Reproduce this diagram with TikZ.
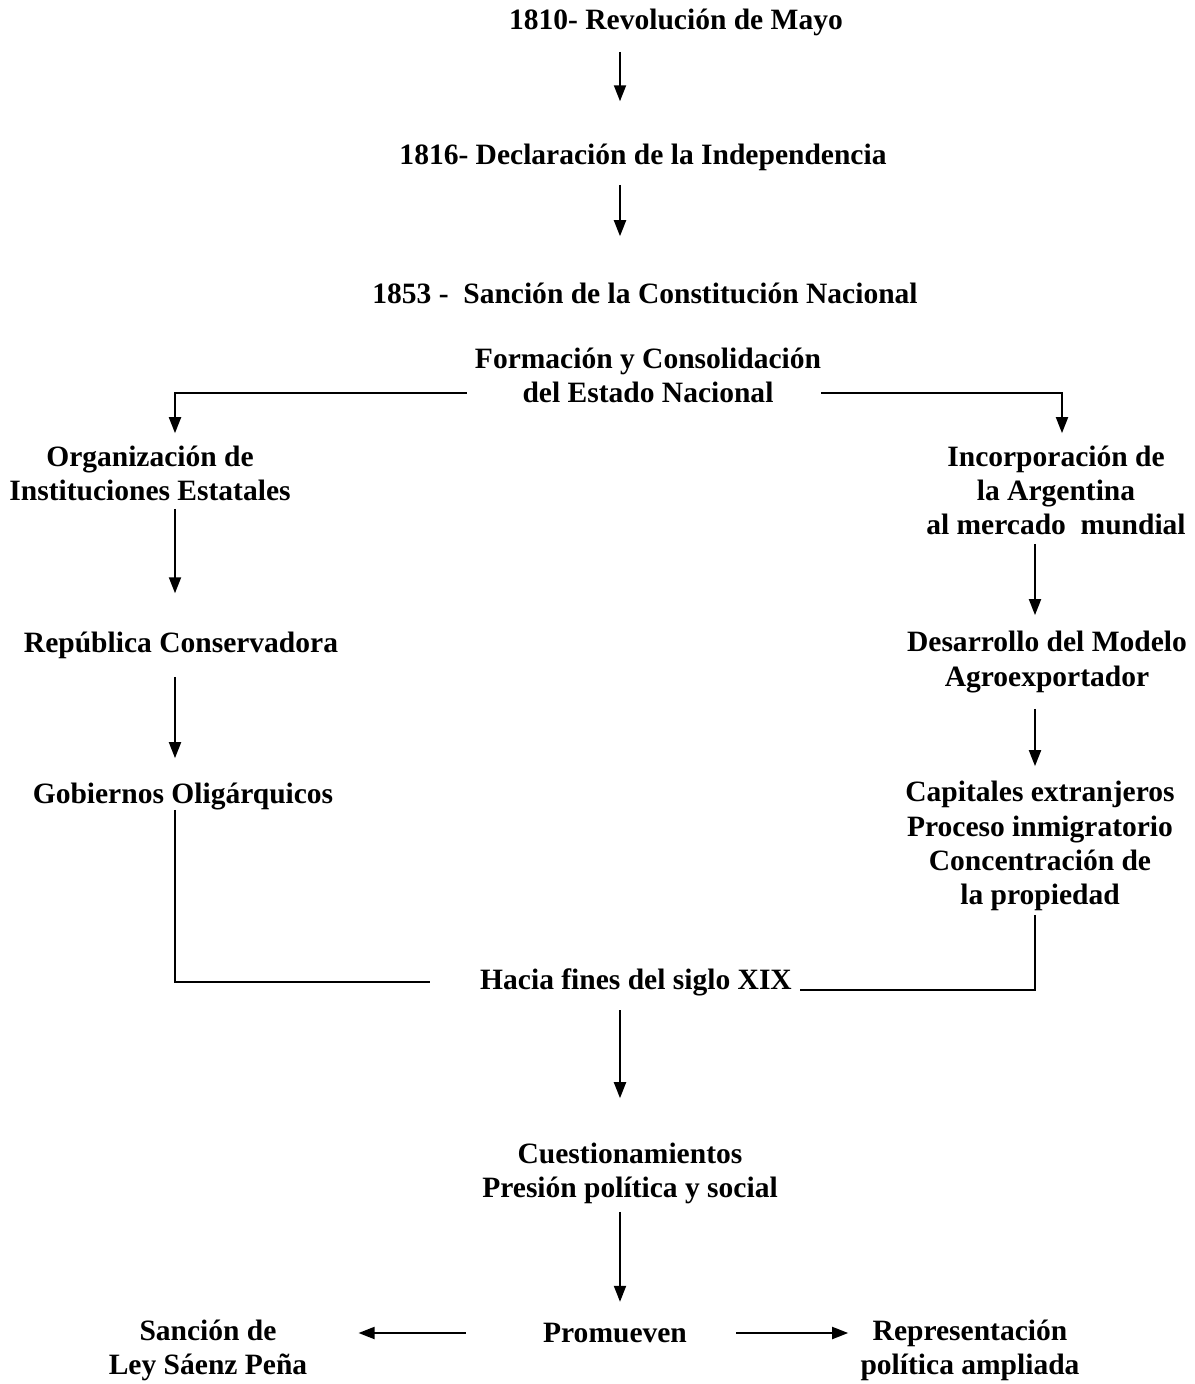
\documentclass[tikz,border=0pt]{standalone}
\usepackage{fontspec}
\setmainfont{Liberation Serif}
\usepackage{tikz}
\usetikzlibrary{arrows.meta}
\tikzset{
  txt/.style={font=\fontsize{16.8}{19.4}\selectfont\bfseries,align=center,inner sep=0pt},
  arr/.style={-{Triangle[length=0.32cm,width=0.24cm]},line width=1.1pt},
  ln/.style={line width=1.1pt},
}
\begin{document}
\begin{tikzpicture}[x=0.02cm,y=-0.02cm]
        \useasboundingbox (0,0) rectangle (1195,1384);
        \coordinate (cax) at (620,0);
        \coordinate (lax) at (175,0);
        \coordinate (rax) at (1035,0);
        \node (mayo) at (676,22) [txt] {1810- Revolución de Mayo};
        \node (indep) at (643,157) [txt] {1816- Declaración de la Independencia};
        \node (const) at (645,293) [txt] {1853 -~ Sanción de la Constitución Nacional};
        \node (estado) at (648,375) [txt] {Formación y Consolidación\\ del Estado Nacional};
        \node (inst) at (150,473) [txt] {Organización de\\Instituciones Estatales};
        \node (incorp) at (1056,490) [txt] {Incorporación de\\la Argentina\\al mercado~ mundial};
        \node (repub) at (181,645) [txt] {República Conservadora};
        \node (desarr) at (1047,662) [txt] {Desarrollo del Modelo\\Agroexportador};
        \node (gob) at (183,796) [txt] {Gobiernos Oligárquicos};
        \node (capit) at (1040,846) [txt] {Capitales extranjeros\\Proceso inmigratorio\\Concentración de\\la propiedad};
        \node (hacia) at (636,982) [txt] {Hacia fines del siglo XIX};
        \node (cuest) at (630,1173) [txt] {Cuestionamientos\\Presión política y social};
        \node (prom) at (615,1333) [txt] {Promueven};
        \node (saenz) at (208,1350) [txt] {Sanción de\\Ley Sáenz Peña};
        \node (repres) at (970,1350) [txt] {Representación\\política ampliada};
        \draw [arr,shorten <=0.32cm,shorten >=0.84cm] (mayo.south -| cax) -- (indep.north -| cax);
        \draw [arr,shorten <=0.28cm,shorten >=0.92cm] (indep.south -| cax) -- (const.north -| cax);
        \draw [arr,shorten >=0.24cm] ([shift={(-8,18)}]estado.west) -| (inst.north -| lax);
        \draw [arr,shorten >=0.24cm] ([shift={(0,18)}]estado.east) -| ([xshift=0.12cm]incorp.north);
        \draw [arr,shorten <=0.16cm,shorten >=0.76cm] (inst.south -| lax) -- (repub.north -| lax);
        \draw [arr,shorten <=0.36cm,shorten >=0.48cm] (repub.south -| lax) -- (gob.north -| lax);
        \draw [arr,shorten <=0.18cm,shorten >=0.32cm] (incorp.south -| rax) -- (desarr.north -| rax);
        \draw [arr,shorten <=0.32cm,shorten >=0.30cm] (desarr.south -| rax) -- (capit.north -| rax);
        \draw [ln,shorten >=1.0cm] (gob.south -| lax) |- (hacia.west);
        \draw [ln,shorten <=0.08cm,shorten >=0.16cm] (capit.south -| rax) |- ([shift={(0,8)}]hacia.east);
        \draw [arr,shorten <=0.28cm,shorten >=0.88cm] (hacia.south -| cax) -- (cuest.north -| cax);
        \draw [arr,shorten <=0.16cm,shorten >=0.42cm] (cuest.south -| cax) -- (prom.north -| cax);
        \draw [arr,shorten <=1.54cm,shorten >=1.02cm] (prom.west) -- (prom.west -| saenz.east);
        \draw [arr,shorten <=0.98cm,shorten >=0.24cm] (prom.east) -- (prom.east -| repres.west);
      \end{tikzpicture}
\end{document}
